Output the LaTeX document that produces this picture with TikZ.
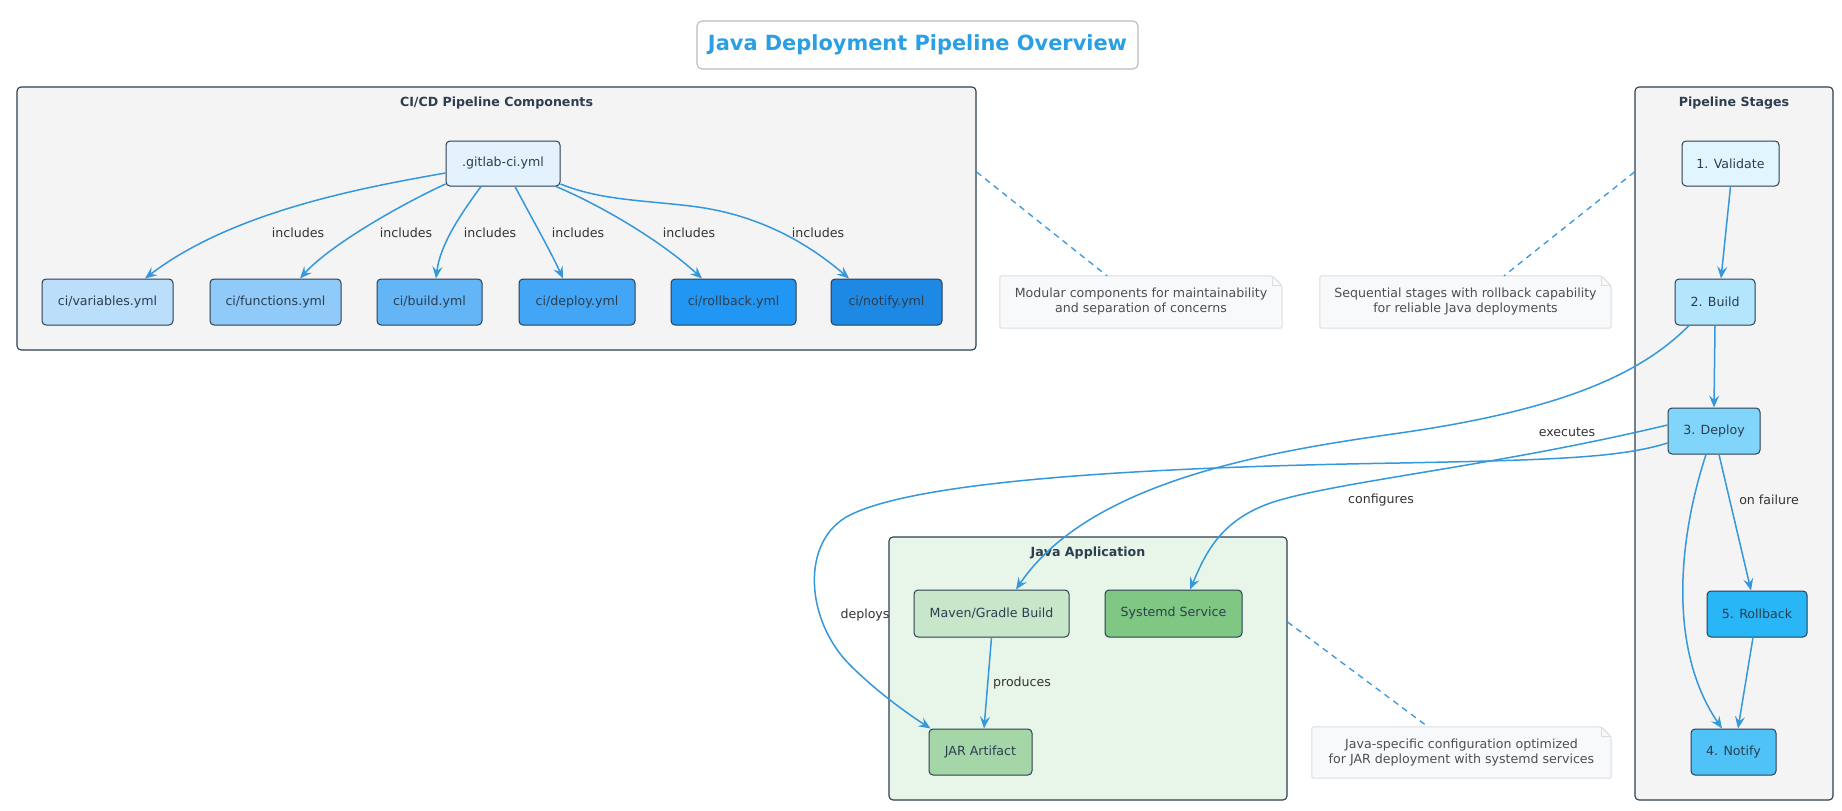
\documentclass[tikz,border=0pt]{standalone}
\usepackage{fontspec}
\setmainfont{DejaVu Sans}
\usetikzlibrary{arrows.meta,calc}
\pgfdeclarelayer{bg}
\pgfsetlayers{bg,main}
\definecolor{cborder}{HTML}{2C3E50}
\definecolor{ctext}{HTML}{2C3E50}
\definecolor{clab}{HTML}{333333}
\definecolor{cedge}{HTML}{3498DB}
\definecolor{cclus}{HTML}{F4F4F4}
\definecolor{cjava}{HTML}{E8F5E9}
\definecolor{cnotefill}{HTML}{F8F9FA}
\definecolor{cnotedraw}{HTML}{DADDE1}
\definecolor{cnotetext}{HTML}{4A4F55}
\definecolor{ctitle}{HTML}{2A9FE3}
\definecolor{ctitlebox}{HTML}{BBBBBB}
\definecolor{cA}{HTML}{E3F2FD}
\definecolor{cB}{HTML}{BBDEFB}
\definecolor{cC}{HTML}{90CAF9}
\definecolor{cD}{HTML}{64B5F6}
\definecolor{cE}{HTML}{42A5F5}
\definecolor{cF}{HTML}{2196F3}
\definecolor{cG}{HTML}{1E88E5}
\definecolor{sA}{HTML}{E1F5FE}
\definecolor{sB}{HTML}{B3E5FC}
\definecolor{sC}{HTML}{81D4FA}
\definecolor{sD}{HTML}{29B6F6}
\definecolor{sE}{HTML}{4FC3F7}
\definecolor{gA}{HTML}{C8E6C9}
\definecolor{gB}{HTML}{81C784}
\definecolor{gC}{HTML}{A5D6A7}
\begin{document}
\begin{tikzpicture}[x=1pt,y=-1pt,
  txt/.style={font=\fontsize{12.6}{15}\selectfont},
  box/.style={txt, draw=cborder, line width=1pt, rounded corners=4pt, inner sep=0pt, text=ctext, align=center},
  cluster/.style={draw=cborder, line width=1.1pt, rounded corners=4pt, inner sep=0pt, fill=cclus},
  ctitlenode/.style={font=\fontsize{12.6}{15}\selectfont\bfseries, text=ctext, inner sep=0pt},
  elabel/.style={txt, text=clab, inner sep=0pt},
  notebox/.style={txt, text=cnotetext, inner sep=0pt, align=center},
  edge/.style={draw=cedge, line width=1.5pt, -{Stealth[length=12pt,width=10pt,inset=4.5pt]}},
  noteline/.style={draw=cedge, line width=1.3pt, dash pattern=on 6pt off 5pt}
]
\useasboundingbox (0,0) rectangle (1842,811);
\begin{pgfonlayer}{bg}
\fill[white] (0,0) rectangle (1842,811);
\end{pgfonlayer}

% title
\node[draw=ctitlebox, line width=1.1pt, rounded corners=5pt, fill=white, minimum width=441pt, minimum height=48pt, inner sep=0pt,
  font=\fontsize{20.9}{24}\selectfont\bfseries, text=ctitle] (title) at (917.5,45) {Java Deployment Pipeline Overview};

% clusters
\node[cluster, minimum width=959pt, minimum height=263pt] (cicd) at (496.5,218.5) {};
\node[ctitlenode] (cicdt) at (496.5,103) {CI/CD Pipeline Components};
\node[cluster, minimum width=198pt, minimum height=713pt] (stages) at (1734,443.5) {};
\node[ctitlenode] (stagest) at (1734,103) {Pipeline Stages};
\node[cluster, fill=cjava, minimum width=398pt, minimum height=263pt] (java) at (1088,668.5) {};
\node[ctitlenode] (javat) at (1088,553) {Java Application};

% CI/CD nodes
\node[box, fill=cA, minimum width=114pt, minimum height=45pt] (git) at (503,163.5) {.gitlab-ci.yml};
\node[box, fill=cB, minimum width=131pt, minimum height=46pt] (var) at (107.5,302) {ci/variables.yml};
\node[box, fill=cC, minimum width=131pt, minimum height=46pt] (fun) at (275.5,302) {ci/functions.yml};
\node[box, fill=cD, minimum width=105pt, minimum height=46pt] (bld) at (429.5,302) {ci/build.yml};
\node[box, fill=cE, minimum width=116pt, minimum height=46pt] (dep) at (577,302) {ci/deploy.yml};
\node[box, fill=cF, minimum width=125pt, minimum height=46pt] (rb) at (733.5,302) {ci/rollback.yml};
\node[box, fill=cG, minimum width=111pt, minimum height=46pt] (nt) at (886.5,302) {ci/notify.yml};

% stages
\node[box, fill=sA, minimum width=97pt, minimum height=45pt] (val) at (1730.5,163.5) {1. Validate};
\node[box, fill=sB, minimum width=80pt, minimum height=46pt] (b2) at (1715,302) {2. Build};
\node[box, fill=sC, minimum width=92pt, minimum height=46pt] (d3) at (1714,431) {3. Deploy};
\node[box, fill=sD, minimum width=100pt, minimum height=46pt] (r5) at (1757,614) {5. Rollback};
\node[box, fill=sE, minimum width=85pt, minimum height=46pt] (n4) at (1733.5,752) {4. Notify};

% java app
\node[box, fill=gA, minimum width=155pt, minimum height=47pt] (mvn) at (991.5,613.5) {Maven/Gradle Build};
\node[box, fill=gB, minimum width=137pt, minimum height=47pt] (sysd) at (1173.5,613.5) {Systemd Service};
\node[box, fill=gC, minimum width=103pt, minimum height=46pt] (jar) at (980.5,752) {JAR Artifact};

% notes
\node[notebox, minimum width=282pt, minimum height=52pt] (note1) at (1141,302) {Modular components for maintainability\\and separation of concerns};
\node[notebox, minimum width=291pt, minimum height=52pt] (note2) at (1465.5,302) {Sequential stages with rollback capability\\for reliable Java deployments};
\node[notebox, minimum width=299pt, minimum height=51pt] (note3) at (1461.5,752.5) {Java-specific configuration optimized\\for JAR deployment with systemd services};
\begin{pgfonlayer}{bg}
\foreach \n in {note1,note2,note3}{
  \filldraw[fill=cnotefill, draw=cnotedraw, line width=1pt, rounded corners=2pt]
    (\n.south west) -- (\n.north west) -- ([xshift=-10pt]\n.north east) -- ([yshift=-10pt]\n.north east) -- (\n.south east) -- cycle;
  \draw[draw=cnotedraw, line width=1pt] ([xshift=-10pt]\n.north east) -- ([xshift=-10pt,yshift=-10pt]\n.north east) -- ([yshift=-10pt]\n.north east);
}
\end{pgfonlayer}

% note connectors
\draw[noteline] ([yshift=46.5pt]cicd.east) -- ([xshift=-34pt]note1.north);
\draw[noteline] ([yshift=271.5pt]stages.west) -- ([xshift=38.5pt]note2.north);
\draw[noteline] ([yshift=46.5pt]java.east) -- ([xshift=-33.5pt]note3.north);

% includes edges
\draw[edge] ([yshift=-9.5pt]git.west) .. controls (360,188) and (232,212) .. ([xshift=37.5pt]var.north);
\draw[edge] ([yshift=-20.5pt]git.west) .. controls (400,205) and (330,245) .. ([xshift=24.5pt]fun.north);
\draw[edge] ([xshift=-22pt]git.south) .. controls (460,215) and (440,245) .. ([xshift=6.5pt]bld.north);
\draw[edge] ([xshift=12pt]git.south) .. controls (530,215) and (550,250) .. ([xshift=-14pt]dep.north);
\draw[edge] ([xshift=53pt]git.south) .. controls (600,205) and (660,240) .. ([xshift=-31.5pt]rb.north);
\draw[edge] ([yshift=-20.5pt]git.east) .. controls (600,200) and (640,200) .. (690,206) .. controls (760,214) and (810,245) .. ([xshift=-37.5pt]nt.north);
\foreach \x/\k in {298/1,406/2,490/3,578/4,689/5,818/6}{
  \node[elabel] (inc\k) at (\x,233) {includes};
}

% stage edges
\draw[edge] (val.south) -- ([xshift=6pt]b2.north);
\draw[edge] (b2.south) -- (d3.north);
\draw[edge] ([xshift=5pt]d3.south) -- ([xshift=-6pt]r5.north);
\node[elabel] (lfail) at (1769,500) {on failure};
\draw[edge] ([xshift=-8pt]d3.south) .. controls (1678,540) and (1668,650) .. ([xshift=-11.5pt]n4.north);
\draw[edge] ([xshift=-4pt]r5.south) -- ([xshift=4.5pt]n4.north);

% cross edges
\draw[edge] ([xshift=-26pt]b2.south) .. controls (1640,375) and (1560,410) .. (1400,433) .. controls (1272,451) and (1090,480) .. ([xshift=24.5pt]mvn.north);
\node[elabel] (lexec) at (1567,432) {executes};
\draw[edge] ([yshift=6pt]d3.west) .. controls (1500,465) and (1350,480) .. (1280,500) .. controls (1220,517) and (1205,555) .. ([xshift=16.5pt]sysd.north);
\node[elabel] (lconf) at (1381,500) {configures};
\draw[edge] ([yshift=-12pt]d3.west) .. controls (1620,458) and (1550,460) .. (1400,463) .. controls (1150,467) and (920,480) .. (850,515) .. controls (800,540) and (805,620) .. (850,665) .. controls (875,690) and (905,712) .. ([xshift=-50pt]jar.north);
\node[elabel] (ldep) at (865,615) {deploys};
\draw[edge] (mvn.south) -- ([xshift=3.5pt]jar.north);
\node[elabel] (lprod) at (1022,683) {produces};
\end{tikzpicture}
\end{document}
